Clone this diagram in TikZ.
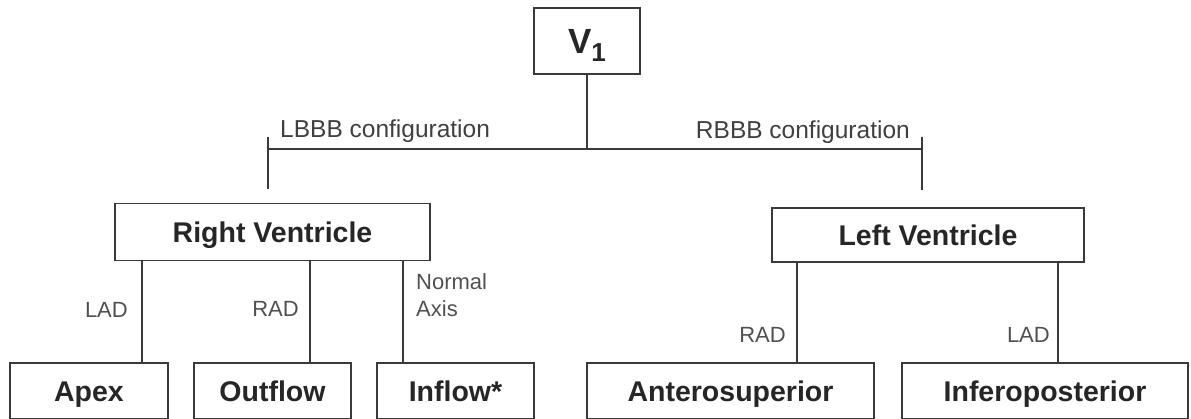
\documentclass[tikz,border=0pt]{standalone}
\usepackage{fontspec}
\setmainfont{Liberation Sans}
\definecolor{linegray}{HTML}{3A3A3A}
\definecolor{textgray}{HTML}{505050}
\tikzset{
  box/.style={draw=linegray,line width=1.8pt,inner sep=0pt,text height=20.5pt,text depth=0pt,
    font=\fontsize{28.5}{30}\selectfont\bfseries,text=black!85},
  lbl/.style={font=\fontsize{22}{27}\selectfont,text=textgray,inner sep=0pt},
  cfg/.style={font=\fontsize{24.5}{27}\selectfont,text=black!75,inner sep=0pt},
  link/.style={draw=linegray,line width=1.6pt}
}
\begin{document}
\begin{tikzpicture}[x=1pt,y=-1pt]
  \useasboundingbox (0,0) rectangle (1191,419);
  % top node
  \node[box,minimum width=106pt,minimum height=66pt,text height=25pt,font=\fontsize{35}{36}\selectfont\bfseries] (v1) at (587,41) {V\raisebox{-8pt}{\fontsize{26}{26}\selectfont 1}};
  \coordinate (bar) at (587,149);
  \coordinate (lbar) at (268,149);
  \coordinate (rbar) at (922,149);
  \coordinate (lend) at (268,189);
  \coordinate (rend) at (922,190);
  \draw[link] (v1.south) -- (bar);
  \draw[link] (lbar) -- (rbar);
  \draw[link] (268,137) -- (lend);
  \draw[link] (922,137) -- (rend);
  \node[cfg,anchor=base west] (lbbb) at (280,138) {LBBB configuration};
  \node[cfg,anchor=base east] (rbbb) at (910,139) {RBBB configuration};
  % ventricles
  \node[box,minimum width=315pt,minimum height=57pt] (rv) at (272.5,232) {Right Ventricle};
  \node[box,minimum width=312pt,minimum height=54pt] (lv) at (928,235) {Left Ventricle};
  % bottom row
  \node[box,minimum width=158pt,minimum height=56pt] (apex) at (89,391) {Apex};
  \node[box,minimum width=157pt,minimum height=56pt] (outflow) at (272.5,391) {Outflow};
  \node[box,minimum width=157pt,minimum height=56pt] (inflow) at (455.5,391) {Inflow*};
  \node[box,minimum width=287pt,minimum height=56pt] (antero) at (730.5,391) {Anterosuperior};
  \node[box,minimum width=286pt,minimum height=56pt] (infero) at (1045,391) {Inferoposterior};
  % branches
  \draw[link] (142,0 |- rv.south) -- (142,0 |- apex.north);
  \draw[link] (310,0 |- rv.south) -- (310,0 |- outflow.north);
  \draw[link] (403,0 |- rv.south) -- (403,0 |- inflow.north);
  \draw[link] (797,0 |- lv.south) -- (797,0 |- antero.north);
  \draw[link] (1058,0 |- lv.south) -- (1058,0 |- infero.north);
  \node[lbl,anchor=base east] (lad1) at (128,318) {LAD};
  \node[lbl,anchor=base east] (rad1) at (299,317) {RAD};
  \node[lbl,anchor=north west,align=left] (norm) at (416,273) {Normal\\Axis};
  \node[lbl,anchor=base east] (rad2) at (786,343) {RAD};
  \node[lbl,anchor=base east] (lad2) at (1050,343) {LAD};
\end{tikzpicture}
\end{document}
